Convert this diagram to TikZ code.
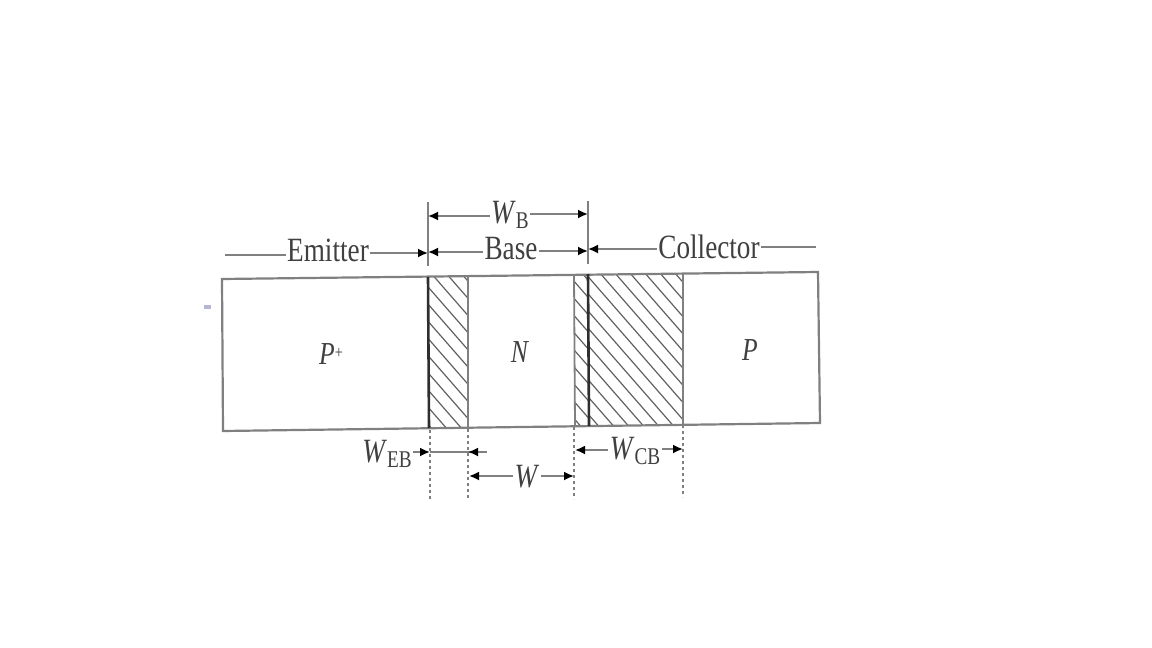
\documentclass[tikz,border=0pt]{standalone}
\usepackage{fontspec}
\setmainfont{Liberation Serif}
\usetikzlibrary{arrows.meta}
\definecolor{lineg}{gray}{0.5}
\definecolor{darkg}{gray}{0.18}
\definecolor{hatchg}{gray}{0.38}
\definecolor{txtg}{gray}{0.25}
\newcommand{\nar}[1]{\scalebox{.8}[1]{#1}}
\newcommand{\sbs}[2]{\textit{#1}\raisebox{-5pt}{\fontsize{24}{24}\selectfont #2}}
\tikzset{
  x=1pt,y=-1pt,
  outline/.style={draw=lineg,line width=2.2pt,line join=miter},
  wall/.style={draw=darkg,line width=2.6pt},
  thinwall/.style={draw=lineg,line width=1.8pt},
  hatchline/.style={draw=hatchg,line width=1.2pt},
  dim/.style={draw=lineg,line width=1.8pt},
  dimA/.style={dim,-{Latex[length=10pt,width=9pt,black]}},
  dimB/.style={dim,{Latex[length=10pt,width=9pt,black]}-},
  guide/.style={draw=lineg,line width=1.3pt,dash pattern=on 3pt off 3pt},
  tick/.style={draw=lineg,line width=1.6pt},
  lbl/.style={text=txtg,inner sep=1.5pt,font=\fontsize{34}{34}\selectfont},
  letter/.style={text=txtg,inner sep=1pt,font=\fontsize{32}{32}\selectfont},
}
\begin{document}
\begin{tikzpicture}
\useasboundingbox (0,0) rectangle (1152,648);
% hatching: phase / clip corners
\foreach \ph/\xa/\xb/\ta/\tb/\ba/\bb in {430/428/468/276.6/276.1/428.3/427.7, 566/574/588/274.9/274.7/426.2/426, 599/589/683/274.7/273.6/426/424.7}{
  \begin{scope}
    \clip (\xa,\ta) -- (\xb,\tb) -- (\xb,\bb) -- (\xa,\ba) -- cycle;
    \foreach \m in {-12,...,8}{
      \draw[hatchline] ({\ph+15*\m},272) -- ({\ph+15*\m+145},438);
    }
  \end{scope}
}
% outer block
\draw[outline] (222,279) -- (818,272) -- (820,423) -- (223,431) -- cycle;
% region walls
\draw[wall] (428,277) -- (429,428);
\draw[thinwall] (468,276) -- (468,428);
\draw[thinwall] (574,275) -- (575,426);
\draw[wall] (588,274) -- (589,426);
\draw[thinwall] (683,273) -- (683,425);
% speck
\fill[blue!30!gray!45] (204,305) rectangle (211,309);
% extents
\coordinate (tl) at (428,202); \coordinate (tlb) at (428,266);
\coordinate (tr) at (588,201); \coordinate (trb) at (588,264);
\draw[tick] (tl) -- (tlb);
\draw[tick] (tr) -- (trb);
% top labels
\node[lbl] (wb) at (510,215) {\nar{\sbs{W}{B}}};
\node[lbl] (emitter) at (328,250) {\nar{Emitter}};
\node[lbl] (base) at (511,249) {\nar{Base}};
\node[lbl] (collector) at (709,247) {\nar{Collector}};
\coordinate (eL) at (225,255);
\coordinate (eR) at (428,253);
\coordinate (cR) at (816,247);
\coordinate (cL) at (588,249);
\coordinate (bl) at (428,252);
\coordinate (br) at (588,251);
\coordinate (wl) at (428,216);
\coordinate (wr) at (588,214);
\draw[dimB] (wl) -- (wb.west |- wl);
\draw[dimA] (wb.east |- wr) -- (wr);
\draw[dim] (eL) -- (emitter.west |- eL);
\draw[dimA] (emitter.east |- eR) -- (eR);
\draw[dimB] (bl) -- (base.west |- bl);
\draw[dimA] (base.east |- br) -- (br);
\draw[dimB] (cL) -- (collector.west |- cL);
\draw[dim] (collector.east |- cR) -- (cR);
% letters in regions
\node[letter] (pp) at (331,354) {\nar{\textit{P}\raisebox{6pt}{\fontsize{18}{18}\selectfont +}}};
\node[letter] (n) at (520,352) {\nar{\textit{N}}};
\node[letter] (p) at (750,350) {\nar{\textit{P}}};
% guides
\coordinate (g1t) at (430,430); \coordinate (g1b) at (430,499);
\coordinate (g2t) at (468,429); \coordinate (g2b) at (468,499);
\coordinate (g3t) at (574,427); \coordinate (g3b) at (574,499);
\coordinate (g4t) at (683,425); \coordinate (g4b) at (683,497);
\draw[guide] (g1t) -- (g1b);
\draw[guide] (g2t) -- (g2b);
\draw[guide] (g3t) -- (g3b);
\draw[guide] (g4t) -- (g4b);
% bottom dims
\node[lbl] (web) at (387,454) {\nar{\sbs{W}{EB}}};
\node[lbl] (wcb) at (635,451) {\nar{\sbs{W}{CB}}};
\node[lbl] (wn) at (527,477) {\nar{\textit{W}}};
\coordinate (a1) at (430,452); \coordinate (a1r) at (468,452); \coordinate (a1e) at (487,452);
\coordinate (a3) at (575,450); \coordinate (a4) at (683,449);
\coordinate (a5) at (469,476); \coordinate (a6) at (574,476);
\draw[dimA] (web.east |- a1) -- (a1);
\draw[dim] (a1) -- (a1e);
\draw[dimB] (a1r) -- (a1e);
\draw[dimB] (a3) -- (wcb.west |- a3);
\draw[dimA] (wcb.east |- a4) -- (a4);
\draw[dimB] (a5) -- (wn.west |- a5);
\draw[dimA] (wn.east |- a6) -- (a6);
\end{tikzpicture}
\end{document}
